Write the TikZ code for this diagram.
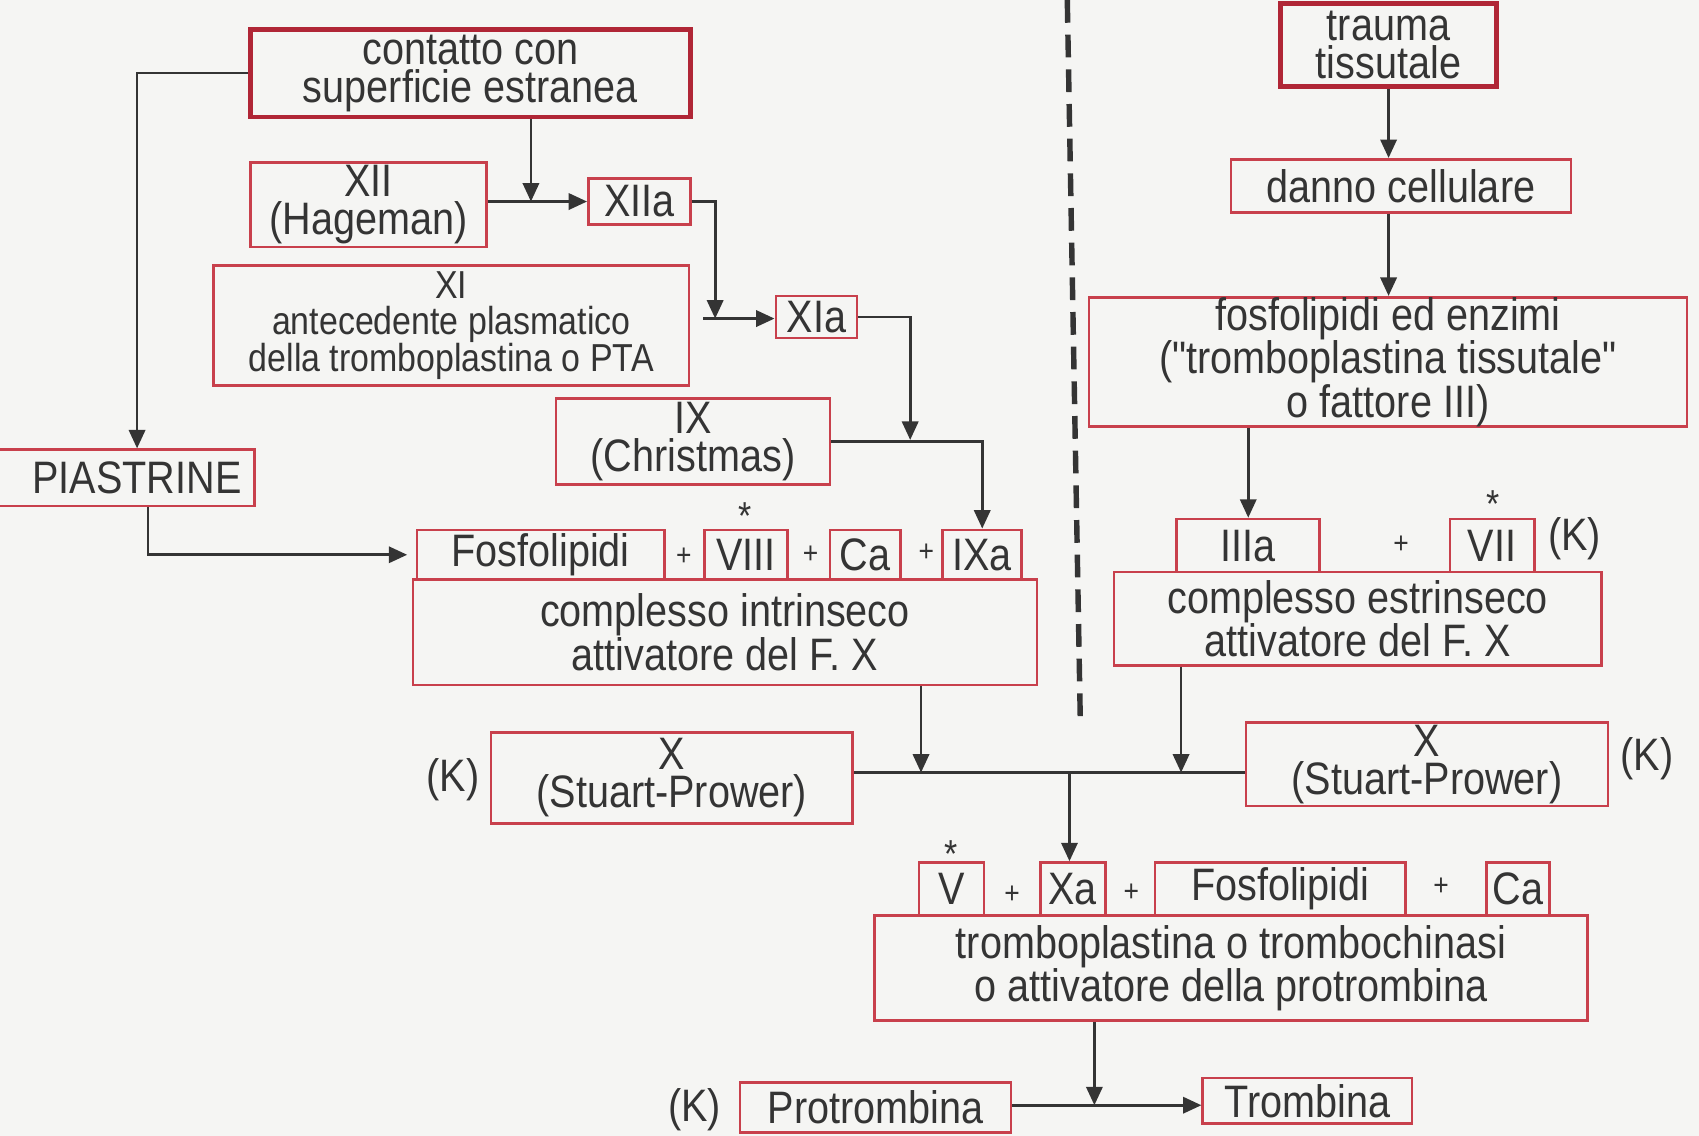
\documentclass[tikz,border=0pt]{standalone}
\usepackage{fontspec}
\newfontfamily\diagfont[FakeStretch=0.87]{Liberation Sans}
\usepackage{tikz}
\usetikzlibrary{arrows.meta}
\usepackage{xcolor}
\definecolor{cfred}{RGB}{200,64,76}
\definecolor{cfdarkred}{RGB}{176,38,54}
\definecolor{cfgray}{RGB}{52,52,52}
\definecolor{cfpaper}{RGB}{245,245,243}
\tikzstyle{arrow} = [line width=2.5pt,-{Triangle[length=17pt,width=15pt]},color=cfgray]
\tikzstyle{link} = [line width=2.5pt,color=cfgray]
\tikzstyle{factorbox} = [rectangle, draw=cfred, line width=2.4pt, inner sep=0pt, align=center, text=cfgray, font=\diagfont\fontsize{42}{35}\selectfont]
\tikzstyle{sourcebox} = [factorbox, draw=cfdarkred, line width=4.5pt]
\tikzstyle{plussign} = [inner sep=0pt, text=cfgray, font=\diagfont\fontsize{28}{28}\selectfont]
\tikzstyle{starsign} = [inner sep=0pt, text=cfgray, font=\diagfont\fontsize{36}{36}\selectfont]
\tikzstyle{klabel} = [inner sep=0pt, text=cfgray, font=\diagfont\fontsize{42}{35}\selectfont]

\begin{document}
\begin{tikzpicture}[x=1pt, y=-1pt]
    % Paper
    \fill[cfpaper] (0,0) rectangle (1568,1048);
    \useasboundingbox (0,0) rectangle (1568,1048);
    \clip (0,0) rectangle (1568,1048);

    % Divider between the two pathways
    \draw[line width=5pt, cfgray, dash pattern=on 21pt off 11pt] (985,0) -- (997,665);

    % Intrinsic pathway
    \node[sourcebox, minimum width=406pt, minimum height=81pt] (contatto) at (434,67.5) {contatto con\\superficie estranea};
    \node[factorbox, minimum width=218pt, minimum height=78pt] (hageman) at (340,189) {XII\\(Hageman)};
    \node[factorbox, minimum width=94pt, minimum height=42pt] (xiia) at (590,186) {XIIa};
    \node[factorbox, minimum width=439pt, minimum height=111pt, font=\diagfont\fontsize{36}{33}\selectfont] (xi) at (416.5,300.5) {XI\\antecedente plasmatico\\della tromboplastina o PTA};
    \node[factorbox, minimum width=75pt, minimum height=39pt] (xia) at (753.5,292.5) {XIa};
    \node[factorbox, minimum width=253pt, minimum height=79pt] (christmas) at (639.5,407.5) {IX\\(Christmas)};
    \node[factorbox, minimum width=245pt, minimum height=52pt] (piastrine) at (112.5,441) {\hspace*{28pt}PIASTRINE};

    % Intrinsic complex
    \node[factorbox, minimum width=576pt, minimum height=97pt] (intrinseco) at (669,583.5) {complesso intrinseco\\attivatore del F. X};
    \node[factorbox, minimum width=228pt, minimum height=46pt] (fosfoint) at (499,512) {Fosfolipidi};
    \node[factorbox, minimum width=77pt, minimum height=46pt] (viii) at (688.5,512) {VIII};
    \node[factorbox, minimum width=65pt, minimum height=46pt] (caint) at (798.5,512) {Ca};
    \node[factorbox, minimum width=73pt, minimum height=46pt] (ixa) at (906.5,512) {IXa};
    \node[plussign] (p1) at (631,514) {+};
    \node[plussign] (p2) at (748,512) {+};
    \node[plussign] (p3) at (855,510) {+};
    \node[starsign] (s1) at (688,476) {*};

    % Extrinsic pathway
    \node[sourcebox, minimum width=199pt, minimum height=77pt] (trauma) at (1281.5,41.5) {trauma\\tissutale};
    \node[factorbox, minimum width=314pt, minimum height=49pt] (danno) at (1293,171.5) {danno cellulare};
    \node[factorbox, minimum width=552pt, minimum height=112pt] (fosfoenz) at (1281,334) {fosfolipidi ed enzimi\\("tromboplastina tissutale"\\o fattore III)};

    % Extrinsic complex
    \node[factorbox, minimum width=450pt, minimum height=86pt] (estrinseco) at (1253,571) {complesso estrinseco\\attivatore del F. X};
    \node[factorbox, minimum width=132pt, minimum height=49pt] (iiia) at (1152,503.5) {IIIa};
    \node[factorbox, minimum width=78pt, minimum height=49pt] (vii) at (1377,503.5) {VII};
    \node[plussign] (p4) at (1293,503) {+};
    \node[starsign] (s2) at (1378,465) {*};
    \node[klabel] (k1) at (1453,497) {(K)};

    % Factor X
    \node[factorbox, minimum width=334pt, minimum height=84pt] (stuartl) at (620,718) {X\\(Stuart-Prower)};
    \node[factorbox, minimum width=334pt, minimum height=77pt] (stuartr) at (1317,705.5) {X\\(Stuart-Prower)};
    \node[klabel] (k2) at (418,720) {(K)};
    \node[klabel] (k3) at (1520,700) {(K)};

    % Prothrombin activator
    \node[factorbox, minimum width=658pt, minimum height=97pt] (tromboplastina) at (1136,893.5) {tromboplastina o trombochinasi\\o attivatore della protrombina};
    \node[factorbox, minimum width=60pt, minimum height=49pt] (v) at (878,820.5) {V};
    \node[factorbox, minimum width=60pt, minimum height=49pt] (xa) at (990,820.5) {Xa};
    \node[factorbox, minimum width=231pt, minimum height=49pt] (fosfoprot) at (1181.5,820.5) {Fosfolipidi};
    \node[factorbox, minimum width=58pt, minimum height=49pt] (caprot) at (1401,820.5) {Ca};
    \node[plussign] (p5) at (934,826) {+};
    \node[plussign] (p6) at (1044,824) {+};
    \node[plussign] (p7) at (1330,818) {+};
    \node[starsign] (s3) at (878,788) {*};

    % Thrombin
    \node[factorbox, minimum width=250pt, minimum height=46pt] (protrombina) at (808,1022) {Protrombina};
    \node[factorbox, minimum width=193pt, minimum height=42pt] (trombina) at (1206.5,1016) {Trombina};
    \node[klabel] (k4) at (641,1024) {(K)};

    % Junctions
    \coordinate (j1) at (490,186);
    \coordinate (j2) at (660,294);
    \coordinate (j3) at (840,406);
    \coordinate (j4) at (850,713);
    \coordinate (j5) at (1090,713);
    \coordinate (j6) at (987,713);
    \coordinate (j7) at (1010,1020);

    % Intrinsic connections
    \draw[arrow] (contatto.west) -| ([xshift=14pt]piastrine.north);
    \draw[arrow] (contatto.south -| j1) -- (j1);
    \draw[arrow] (hageman.east |- xiia.west) -- (xiia.west);
    \draw[arrow] (xiia.east) -| (j2);
    \draw[arrow, shorten <=12pt] (xi.east |- j2) -- (xia.west |- j2);
    \draw[arrow] (xia.east) -| (j3);
    \draw[arrow] (christmas.east) -| (ixa.north);
    \draw[arrow, shorten >=8pt] ([xshift=24pt]piastrine.south) |- (fosfoint.west);

    % Extrinsic connections
    \draw[arrow] (trauma.south) -- (trauma.south |- danno.north);
    \draw[arrow] (trauma.south |- danno.south) -- (trauma.south |- fosfoenz.north);
    \draw[arrow] (iiia.north |- fosfoenz.south) -- (iiia.north);

    % Common pathway
    \draw[arrow] (intrinseco.south -| j4) -- (j4);
    \draw[arrow] (estrinseco.south -| j5) -- (j5);
    \draw[link] (stuartl.east |- j4) -- (stuartr.west |- j4);
    \draw[arrow] (j6) -- (j6 |- xa.north);
    \draw[arrow] (tromboplastina.south -| j7) -- (j7);
    \draw[arrow] (protrombina.east |- j7) -- (trombina.west |- j7);
\end{tikzpicture}
\end{document}
